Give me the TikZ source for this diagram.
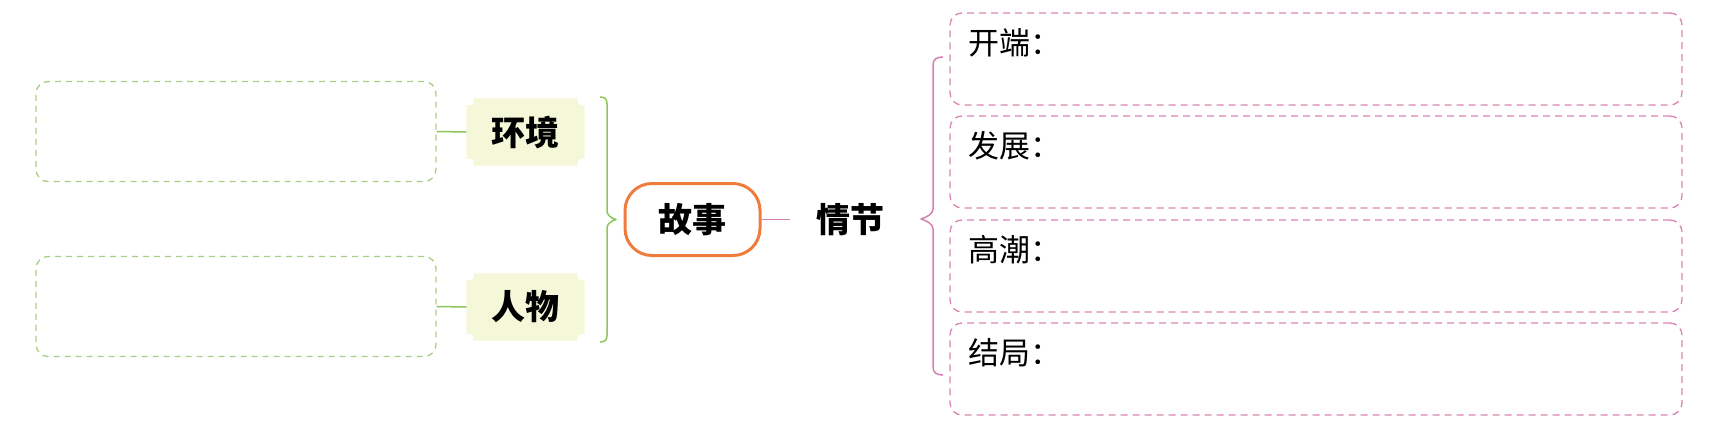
\documentclass[tikz,border=0pt]{standalone}
\usepackage{fontspec}
\setmainfont{Noto Sans CJK SC}
\usetikzlibrary{backgrounds}
\definecolor{gline}{HTML}{8DC559}
\definecolor{gdash}{HTML}{A9CF86}
\definecolor{yfill}{HTML}{F4F8D8}
\definecolor{orng}{HTML}{EE7C3C}
\definecolor{pline}{HTML}{D77FB3}
\definecolor{pdash}{HTML}{D985B4}
\tikzset{
  gbox/.style={draw=gdash, line width=1.3pt, dash pattern=on 6pt off 5pt, rounded corners=12pt, minimum width=400pt, minimum height=100pt, inner sep=0pt},
  pbox/.style={draw=pdash, line width=1.3pt, dash pattern=on 7pt off 5pt, rounded corners=12pt, minimum width=732pt, minimum height=92pt, inner sep=0pt},
  tag/.style={rectangle, minimum width=118pt, minimum height=67pt, inner sep=0pt, font=\fontsize{34}{34}\selectfont\bfseries},
  storybox/.style={draw=orng, line width=3pt, rounded corners=27pt, minimum width=135pt, minimum height=72pt, inner sep=0pt, font=\fontsize{34}{34}\selectfont\bfseries},
  lbl/.style={anchor=west, inner sep=0pt, font=\fontsize{31}{31}\selectfont},
  gconn/.style={draw=gline, line width=1.5pt},
  pconn/.style={draw=pline, line width=1.5pt},
}
\newcommand{\notchfill}[1]{%
  \fill[yfill] ([xshift=7pt]#1.north west) -- ([xshift=-7pt]#1.north east)
    .. controls ([xshift=-7pt,yshift=-7pt]#1.north east) .. ([yshift=-7pt]#1.north east)
    -- ([yshift=7pt]#1.south east)
    .. controls ([xshift=-7pt,yshift=7pt]#1.south east) .. ([xshift=-7pt]#1.south east)
    -- ([xshift=7pt]#1.south west)
    .. controls ([xshift=7pt,yshift=7pt]#1.south west) .. ([yshift=7pt]#1.south west)
    -- ([yshift=-7pt]#1.north west)
    .. controls ([xshift=7pt,yshift=-7pt]#1.north west) .. ([xshift=7pt]#1.north west) -- cycle;}
\begin{document}
\begin{tikzpicture}[x=1pt,y=-1pt]
\useasboundingbox (0,0) rectangle (1724,429);
% left boxes
\node[gbox] (lb1) at (236,131.5) {};
\node[gbox] (lb2) at (236,306.5) {};
% tags
\node[tag] (env) at (525.5,132) {环境};
\node[tag] (ppl) at (525.5,307) {人物};
\begin{scope}[on background layer]
\notchfill{env}
\notchfill{ppl}
\end{scope}
\draw[gconn] (lb1.east) -- (env.west);
\draw[gconn] (lb2.east) -- (ppl.west);
% story
\node[storybox] (story) at (692.5,219.5) {故事};
\node[inner sep=0pt, font=\fontsize{34}{34}\selectfont\bfseries] (plot) at (850,220) {情节};
\coordinate (pe) at (790,219.5);
\draw[pconn] (story.east) -- (pe);
% green brace
\coordinate (gt) at (600,97);
\coordinate (gb) at (600,342);
\coordinate (gtip) at (616,219.5);
\draw[gconn, line join=round] (gt) .. controls (605,97) and (607,99) .. (607,104)
  -- (607,211) .. controls (607,215) and (611,218) .. (gtip)
  .. controls (611,221) and (607,224) .. (607,228)
  -- (607,335) .. controls (607,340) and (605,342) .. (gb);
% right boxes
\node[pbox] (r1) at (1316,59) {};
\node[pbox] (r2) at (1316,162) {};
\node[pbox] (r3) at (1316,266) {};
\node[pbox] (r4) at (1316,369) {};
\node[lbl] (t1) at ([shift={(19,30)}]r1.north west) {开端：};
\node[lbl] (t2) at ([shift={(19,30)}]r2.north west) {发展：};
\node[lbl] (t3) at ([shift={(19,30)}]r3.north west) {高潮：};
\node[lbl] (t4) at ([shift={(19,30)}]r4.north west) {结局：};
% pink brace
\coordinate (pt) at (943,57);
\coordinate (pb) at (943,375);
\coordinate (ptip) at (921,219);
\draw[pconn, line join=round] (pt) .. controls (937,57) and (933,59) .. (933,65)
  -- (933,209) .. controls (933,214) and (927,217) .. (ptip)
  .. controls (927,221) and (933,224) .. (933,229)
  -- (933,367) .. controls (933,373) and (937,375) .. (pb);
\end{tikzpicture}
\end{document}
